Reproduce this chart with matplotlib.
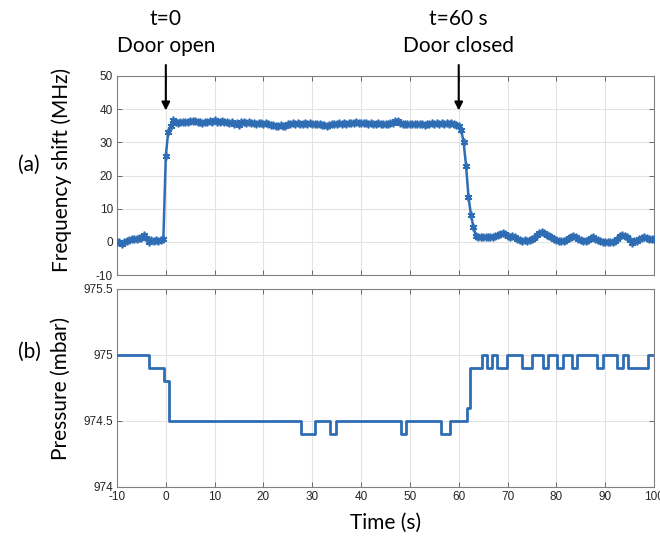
import numpy as np
import matplotlib
matplotlib.use("Agg")
import matplotlib.pyplot as plt

plt.rcParams["axes.unicode_minus"] = False

# ---- data ----
freq_t_start, freq_t_step = -10.0, 0.5
freq_pre = [0.0, 0.1, -0.7, -0.2, 0.4, 0.5, 0.9, 0.9, 1.0, 1.2,
            1.3, 2.0, 1.3, -0.2, 0.6, 0.3, 0.6, 0.3, 0.5, 1.0]
freq_open = [26.0, 33.2, 35.0, 36.8, 36.0, 35.9, 36.2, 36.0, 36.1, 36.0,
             36.4, 36.3, 36.4, 36.0, 36.2, 35.8, 36.0, 36.2, 36.3, 36.1,
             36.6, 36.2, 36.0, 36.3, 36.2, 36.1, 35.7, 36.0, 35.6, 35.8,
             35.3, 36.0, 36.1, 35.9, 36.0, 35.7, 35.8, 35.6, 35.9, 35.7,
             35.5, 35.7, 35.4, 35.2, 35.3, 35.0, 34.9, 35.1, 34.8, 35.0,
             35.4, 35.6, 35.7, 35.6, 35.7, 35.6, 35.5, 35.7, 35.6, 35.7,
             35.5, 35.6, 35.4, 35.6, 35.3, 35.2, 35.0, 35.1, 35.5, 35.4,
             35.6, 35.7, 35.5, 35.7, 35.6, 35.8, 35.7, 35.9, 36.1, 35.8,
             35.9, 35.7, 35.8, 35.6, 35.7, 35.6, 35.5, 35.7, 35.6, 35.4,
             35.6, 35.5, 35.8, 35.9, 36.3, 36.5, 35.7, 35.6, 35.5, 35.6,
             35.5, 35.6, 35.5, 35.6, 35.4, 35.5, 35.3, 35.6, 35.5, 35.7,
             35.5, 35.8, 35.6, 35.9, 35.6, 35.8, 35.5, 35.7, 35.6, 35.3]
freq_drop = [35.0, 33.8, 30.0, 23.0, 13.5, 8.2, 4.5, 1.8]
freq_post = [1.4, 1.5, 1.6, 1.5, 1.6, 1.5, 1.6, 1.7, 2.0, 2.4,
             2.7, 2.4, 1.9, 1.6, 1.8, 1.5, 1.0, 0.6, 0.4, 0.5,
             0.4, 0.6, 0.8, 1.2, 2.0, 2.8, 3.0, 2.6, 2.1, 1.7,
             1.4, 1.0, 0.6, 0.4, 0.2, 0.3, 0.6, 1.1, 1.5, 1.7,
             1.4, 0.9, 0.5, 0.3, 0.2, 0.6, 1.2, 1.5, 1.0, 0.5,
             0.2, 0.0, 0.1, 0.0, 0.1, 0.0, 0.2, 1.0, 1.8, 2.0,
             1.7, 1.5, 0.5, -0.3, 0.2, 0.4, 0.8, 1.2, 1.5, 1.2,
             0.9, 1.0, 0.8]
freq_values = np.array(freq_pre + freq_open + freq_drop + freq_post)
freq_time = freq_t_start + freq_t_step * np.arange(len(freq_values))

press_time = [-10, -3.4, -0.3, 0.7, 27.6, 30.6, 33.7, 34.9, 48.2, 49.2,
              56.4, 58.3, 61.6, 62.4, 64.7, 65.7, 66.8, 67.8, 69.8, 73.0,
              75.1, 77.2, 78.2, 80.2, 81.3, 83.3, 84.3, 88.4, 89.5, 92.5,
              93.6, 94.6, 98.8, 100]
press_values = [975.0, 974.9, 974.8, 974.5, 974.4, 974.5, 974.4, 974.5, 974.4, 974.5,
                974.4, 974.5, 974.6, 974.9, 975.0, 974.9, 975.0, 974.9, 975.0, 974.9,
                975.0, 974.9, 975.0, 974.9, 975.0, 974.9, 975.0, 974.9, 975.0, 974.9,
                975.0, 974.9, 975.0, 975.0]

x_ticks = [-10, 0, 10, 20, 30, 40, 50, 60, 70, 80, 90, 100]
freq_ticks = [-10, 0, 10, 20, 30, 40, 50]
press_ticks = [974, 974.5, 975, 975.5]
press_ticklabels = ["974", "974.5", "975", "975.5"]

events = [(0, "t=0\nDoor open"), (60, "t=60 s\nDoor closed")]

# ---- style ----
W, H = 660, 542
fig = plt.figure(figsize=(W / 100, H / 100), dpi=100)
line_color = "#2e6db4"
spine_color = "#808080"
tick_font = "Liberation Sans"
label_font = "Lato"
label_size = 15

def style_axes(ax):
    for s in ax.spines.values():
        s.set_color(spine_color)
        s.set_linewidth(0.8)
    ax.tick_params(direction="in", top=True, right=True, length=3.5,
                   width=0.6, color="#555555", labelsize=8.5,
                   labelcolor="#262626", pad=3)
    for lab in ax.get_xticklabels() + ax.get_yticklabels():
        lab.set_fontfamily(tick_font)
    ax.grid(True, color="#e3e3e3", linewidth=0.8)
    ax.set_axisbelow(True)

L, R = 117 / W, 654 / W
ax1 = fig.add_axes([L, 1 - 275 / H, R - L, (275 - 76) / H])
ax2 = fig.add_axes([L, 1 - 487 / H, R - L, (487 - 289) / H])

ax1.plot(freq_time, freq_values, color=line_color, linewidth=1.8,
         marker=(6, 2, 0), markersize=5.5, markeredgewidth=1.2, zorder=3)
ax1.set_xlim(-10, 100)
ax1.set_ylim(-10, 50)
ax1.set_xticks(x_ticks)
ax1.set_yticks(freq_ticks)
ax1.set_xticklabels([])
style_axes(ax1)
ax1.set_ylabel("Frequency shift (MHz)", fontsize=label_size, family=label_font,
               labelpad=9)
ax1.yaxis.set_label_coords(-0.083, 0.53)

ax2.plot(press_time, press_values, color=line_color, linewidth=2.0,
         drawstyle="steps-post", zorder=3)
ax2.set_xlim(-10, 100)
ax2.set_ylim(974, 975.5)
ax2.set_xticks(x_ticks)
ax2.set_yticks(press_ticks)
ax2.set_yticklabels(press_ticklabels)
style_axes(ax2)
ax2.set_ylabel("Pressure (mbar)", fontsize=label_size, family=label_font,
               labelpad=9)
ax2.set_xlabel("Time (s)", fontsize=label_size, family=label_font, labelpad=7)

for tx, txt in events:
    ax1.annotate("", xy=(tx, 39.6), xytext=(tx, 53.3), xycoords="data",
                 textcoords="data", annotation_clip=False,
                 arrowprops=dict(arrowstyle="-|>", color="black", lw=1.5,
                                 mutation_scale=12, shrinkA=0, shrinkB=0))
    ax1.text(tx, 55.9, txt, ha="center", va="bottom", fontsize=label_size,
             family=label_font, linespacing=1.45, clip_on=False)

fig.text(18 / W, 1 - 165 / H, "(a)", fontsize=label_size, family=label_font,
         ha="left", va="center")
fig.text(18 / W, 1 - 352 / H, "(b)", fontsize=label_size, family=label_font,
         ha="left", va="center")

fig.savefig("out.png", dpi=100)
